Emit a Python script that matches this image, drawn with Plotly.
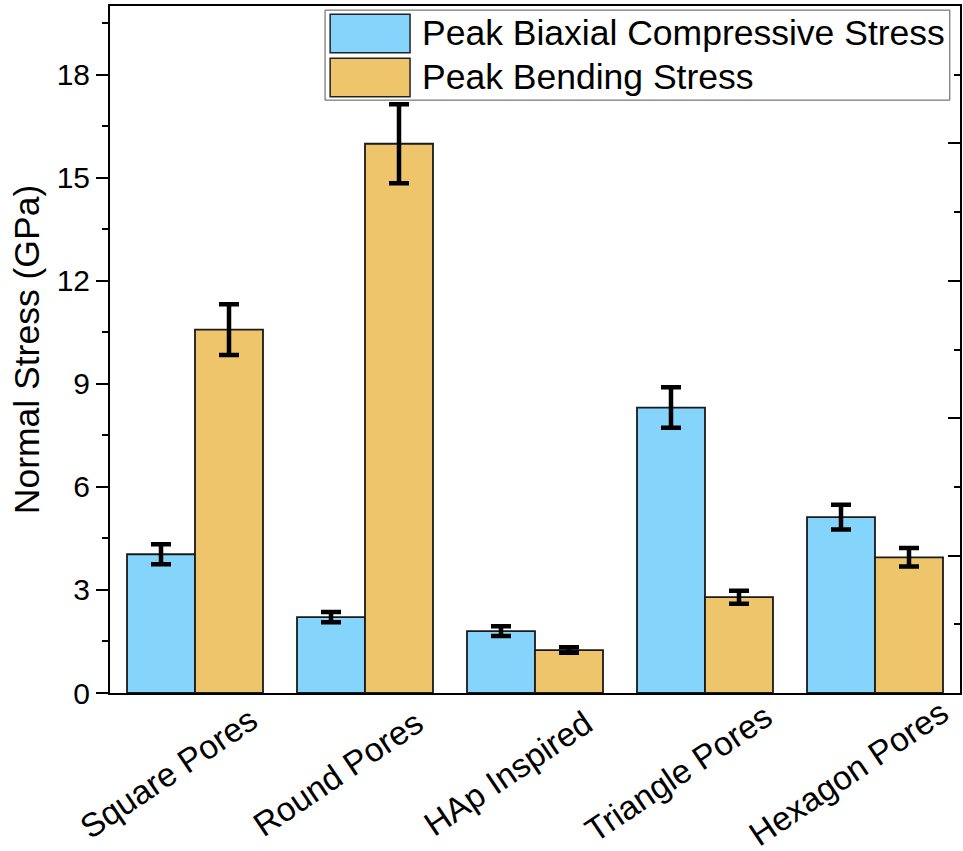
import plotly.graph_objects as go

categories = ["Square Pores", "Round Pores", "HAp Inspired", "Triangle Pores", "Hexagon Pores"]
series_names = ["Peak Biaxial Compressive Stress", "Peak Bending Stress"]
biaxial = [4.04, 2.21, 1.80, 8.31, 5.12]
biaxial_err = [0.29, 0.15, 0.14, 0.59, 0.36]
bending = [10.58, 15.99, 1.25, 2.79, 3.95]
bending_err = [0.74, 1.15, 0.08, 0.19, 0.27]
colors = ["#84D4FC", "#EEC56A"]

FONT = "Arial, Liberation Sans, sans-serif"

fig = go.Figure()
for name, vals, errs, col in [(series_names[0], biaxial, biaxial_err, colors[0]),
                              (series_names[1], bending, bending_err, colors[1])]:
    fig.add_trace(go.Bar(
        x=categories, y=vals, name=name,
        marker=dict(color=col, line=dict(color="#1a1a1a", width=1.8)),
        error_y=dict(type="data", array=errs, visible=True, color="black",
                     thickness=4.5, width=10),
        showlegend=False,
    ))

# invisible trace to carry the right axis
fig.add_trace(go.Scatter(x=[categories[0]], y=[0], yaxis="y2", mode="markers",
                         marker=dict(opacity=0), showlegend=False, hoverinfo="skip"))

fig.update_layout(
    width=963, height=851,
    margin=dict(l=110, r=3, t=6, b=158),
    paper_bgcolor="white", plot_bgcolor="white",
    barmode="group", bargap=0.2, bargroupgap=0,
    font=dict(family=FONT, color="black"),
    xaxis=dict(showline=True, linecolor="black", linewidth=2, mirror=True,
               range=[-0.5, len(categories) - 0.5], autorange=False,
               ticks="", showticklabels=False, automargin=False),
    yaxis=dict(range=[0, 20], dtick=3, showline=True, linecolor="black", linewidth=2,
               mirror=True, ticks="outside", ticklen=12, tickwidth=2, tickcolor="black",
               minor=dict(dtick=1.5, ticks="outside", ticklen=6, tickwidth=2, tickcolor="black"),
               showgrid=False, zeroline=False, tickfont=dict(size=30), automargin=False,
               title=dict(text="Normal Stress (GPa)", font=dict(size=35.5), standoff=6)),
    yaxis2=dict(range=[0, 20], dtick=4, overlaying="y", side="right", showline=True,
                linecolor="black", linewidth=2, ticks="inside", ticklen=12, tickwidth=2,
                tickcolor="black", automargin=False,
                minor=dict(dtick=2, ticks="inside", ticklen=6, tickwidth=2, tickcolor="black"),
                showticklabels=False, showgrid=False, zeroline=False),
)

# rotated category labels
for cat in categories:
    fig.add_annotation(x=cat, xref="x", y=0, yref="paper", text=cat, showarrow=False,
                       textangle=-34, xanchor="center", yanchor="middle",
                       xshift=-27, yshift=-80, borderpad=0,
                       font=dict(size=33.5, family=FONT, color="black"))

# custom legend (box, swatches, labels)
fig.add_shape(type="rect", xref="paper", yref="paper", x0=0.253, x1=0.988, y0=0.863, y1=0.994,
              line=dict(color="#555555", width=1), fillcolor="white", layer="above")
sw_y = [(0.932, 0.988), (0.868, 0.924)]
for i, name in enumerate(series_names):
    fig.add_shape(type="rect", xref="paper", yref="paper", x0=0.259, x1=0.353,
                  y0=sw_y[i][0], y1=sw_y[i][1],
                  line=dict(color="#222222", width=1.5), fillcolor=colors[i], layer="above")
    fig.add_annotation(xref="paper", yref="paper", x=0.365, y=(sw_y[i][0] + sw_y[i][1]) / 2,
                       text=name, showarrow=False, xanchor="left", yanchor="middle",
                       font=dict(size=35.5, family=FONT, color="black"))

fig.write_html("out.html")
